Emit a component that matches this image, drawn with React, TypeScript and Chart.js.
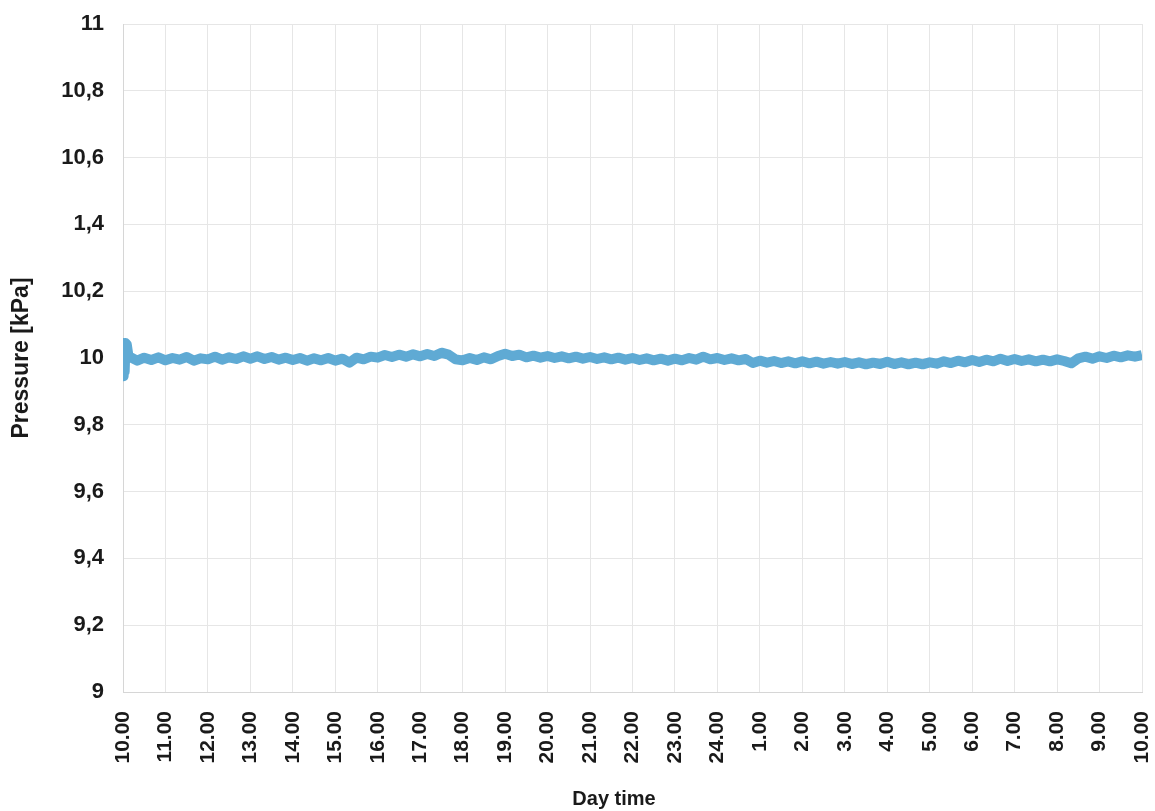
import React, { useEffect, useRef } from "react";
import { Chart, registerables } from "chart.js";

Chart.register(...registerables);

const hourLabels = [
  "10.00", "11.00", "12.00", "13.00", "14.00", "15.00", "16.00", "17.00", "18.00",
  "19.00", "20.00", "21.00", "22.00", "23.00", "24.00", "1.00", "2.00", "3.00",
  "4.00", "5.00", "6.00", "7.00", "8.00", "9.00", "10.00",
];

const yTickLabels = ["9", "9,2", "9,4", "9,6", "9,8", "10", "10,2", "1,4", "10,6", "10,8", "11"];

const xTitle = "Day time";
const yTitle = "Pressure [kPa]";

// start-up spike (hours after 10.00, kPa)
const spikeTimes = [0, 0.01, 0.02, 0.04, 0.06, 0.09, 0.13];
const spikeValues = [9.99, 9.945, 10.045, 9.96, 10.045, 10.04, 10.005];

// readings every 10 minutes from 10.00 (index 0) to 10.00 next day (index 144)
const pressureValues = [
  9.997, 10.003, 9.992, 10.001, 9.994, 10.002,
  9.993, 10.0, 9.995, 10.003, 9.992, 9.999,
  9.996, 10.004, 9.995, 10.002, 9.997, 10.005,
  9.998, 10.005, 9.997, 10.003, 9.995, 10.001,
  9.994, 10.0, 9.992, 9.999, 9.993, 10.0,
  9.992, 9.998, 9.986, 10.001, 9.996, 10.004,
  10.001, 10.009, 10.003, 10.01, 10.004, 10.011,
  10.005, 10.012, 10.006, 10.016, 10.01, 9.996,
  9.993, 10.0, 9.994, 10.002, 9.996, 10.006,
  10.013, 10.006, 10.01, 10.002, 10.007, 10.001,
  10.006, 10.0, 10.005, 9.999, 10.004, 9.998,
  10.003, 9.997, 10.002, 9.996, 10.001, 9.995,
  10.0, 9.994, 9.999, 9.993, 9.998, 9.992,
  9.998, 9.993, 10.0, 9.995, 10.004, 9.996,
  10.0, 9.994, 9.999, 9.993, 9.997, 9.985,
  9.992, 9.986, 9.991, 9.985, 9.99, 9.984,
  9.99, 9.984, 9.989, 9.983, 9.988, 9.983,
  9.988, 9.982, 9.987, 9.981, 9.986, 9.982,
  9.989, 9.982, 9.987, 9.981, 9.986, 9.981,
  9.987, 9.983, 9.99, 9.985, 9.992, 9.987,
  9.994, 9.988, 9.995, 9.99, 9.998, 9.991,
  9.997, 9.991, 9.996, 9.99, 9.995, 9.99,
  9.996, 9.991, 9.984, 9.999, 10.004, 9.998,
  10.005, 10.0, 10.007, 10.002, 10.008, 10.004,
  10.009,
];

const FONT = "'Liberation Sans', Arial, sans-serif";

const xTitlePlugin = {
  id: "xTitlePlugin",
  afterDraw(chart: any) {
    const ctx = chart.ctx;
    ctx.save();
    ctx.font = `bold 20px ${FONT}`;
    ctx.fillStyle = "#1a1a1a";
    ctx.textAlign = "center";
    ctx.textBaseline = "middle";
    ctx.fillText(xTitle, chart.chartArea.left + 491, chart.height - 12);
    ctx.restore();
  },
};

export default function App() {
  const ref = useRef<HTMLCanvasElement>(null);

  useEffect(() => {
    if (!ref.current) return;
    const points: { x: number; y: number }[] = [];
    spikeTimes.forEach((t, i) => points.push({ x: t, y: spikeValues[i] }));
    pressureValues.forEach((v, i) => {
      if (i > 0) points.push({ x: i / 6, y: v });
    });

    const chart = new Chart(ref.current, {
      type: "line",
      data: {
        datasets: [
          {
            data: points,
            borderColor: "#5faad4",
            borderWidth: 10,
            borderJoinStyle: "round",
            borderCapStyle: "butt",
            pointRadius: 0,
            tension: 0,
            fill: false,
          },
        ],
      },
      plugins: [xTitlePlugin],
      options: {
        animation: false,
        responsive: false,
        maintainAspectRatio: false,
        layout: { padding: { top: 24, right: 13, left: 0, bottom: 0 } },
        plugins: { legend: { display: false }, tooltip: { enabled: false } },
        scales: {
          x: {
            type: "linear",
            min: 0,
            max: 24,
            grid: { color: "#e6e6e6", drawTicks: false },
            border: { color: "#d6d6d6" },
            ticks: {
              stepSize: 1,
              autoSkip: false,
              maxRotation: 90,
              minRotation: 90,
              padding: 19,
              color: "#1a1a1a",
              font: { family: FONT, size: 21, weight: "bold" },
              callback: (v: any) => {
                const n = Number(v);
                return Number.isInteger(n) ? hourLabels[n] : "";
              },
            },
            afterFit: (s: any) => {
              s.height = 119;
              s.paddingLeft = 0;
              s.paddingRight = 0;
            },
          },
          y: {
            min: 9,
            max: 11,
            grid: { color: "#e6e6e6", drawTicks: false },
            border: { color: "#d6d6d6" },
            ticks: {
              stepSize: 0.2,
              padding: 19,
              color: "#1a1a1a",
              font: { family: FONT, size: 22, weight: "bold" },
              callback: (v: any) => yTickLabels[Math.round((Number(v) - 9) / 0.2)] ?? "",
            },
            title: {
              display: true,
              text: yTitle,
              color: "#1a1a1a",
              font: { family: FONT, size: 23, weight: "bold" },
              padding: { top: 8, bottom: 0 },
            },
            afterFit: (s: any) => {
              s.width = 123;
              s.paddingTop = 0;
              s.paddingBottom = 0;
            },
          },
        },
      },
    });
    return () => chart.destroy();
  }, []);

  return (
    <div style={{ position: "absolute", left: 0, top: 0, width: 1155, height: 811, background: "#fff" }}>
      <canvas ref={ref} width={1155} height={811} style={{ display: "block" }} />
    </div>
  );
}
